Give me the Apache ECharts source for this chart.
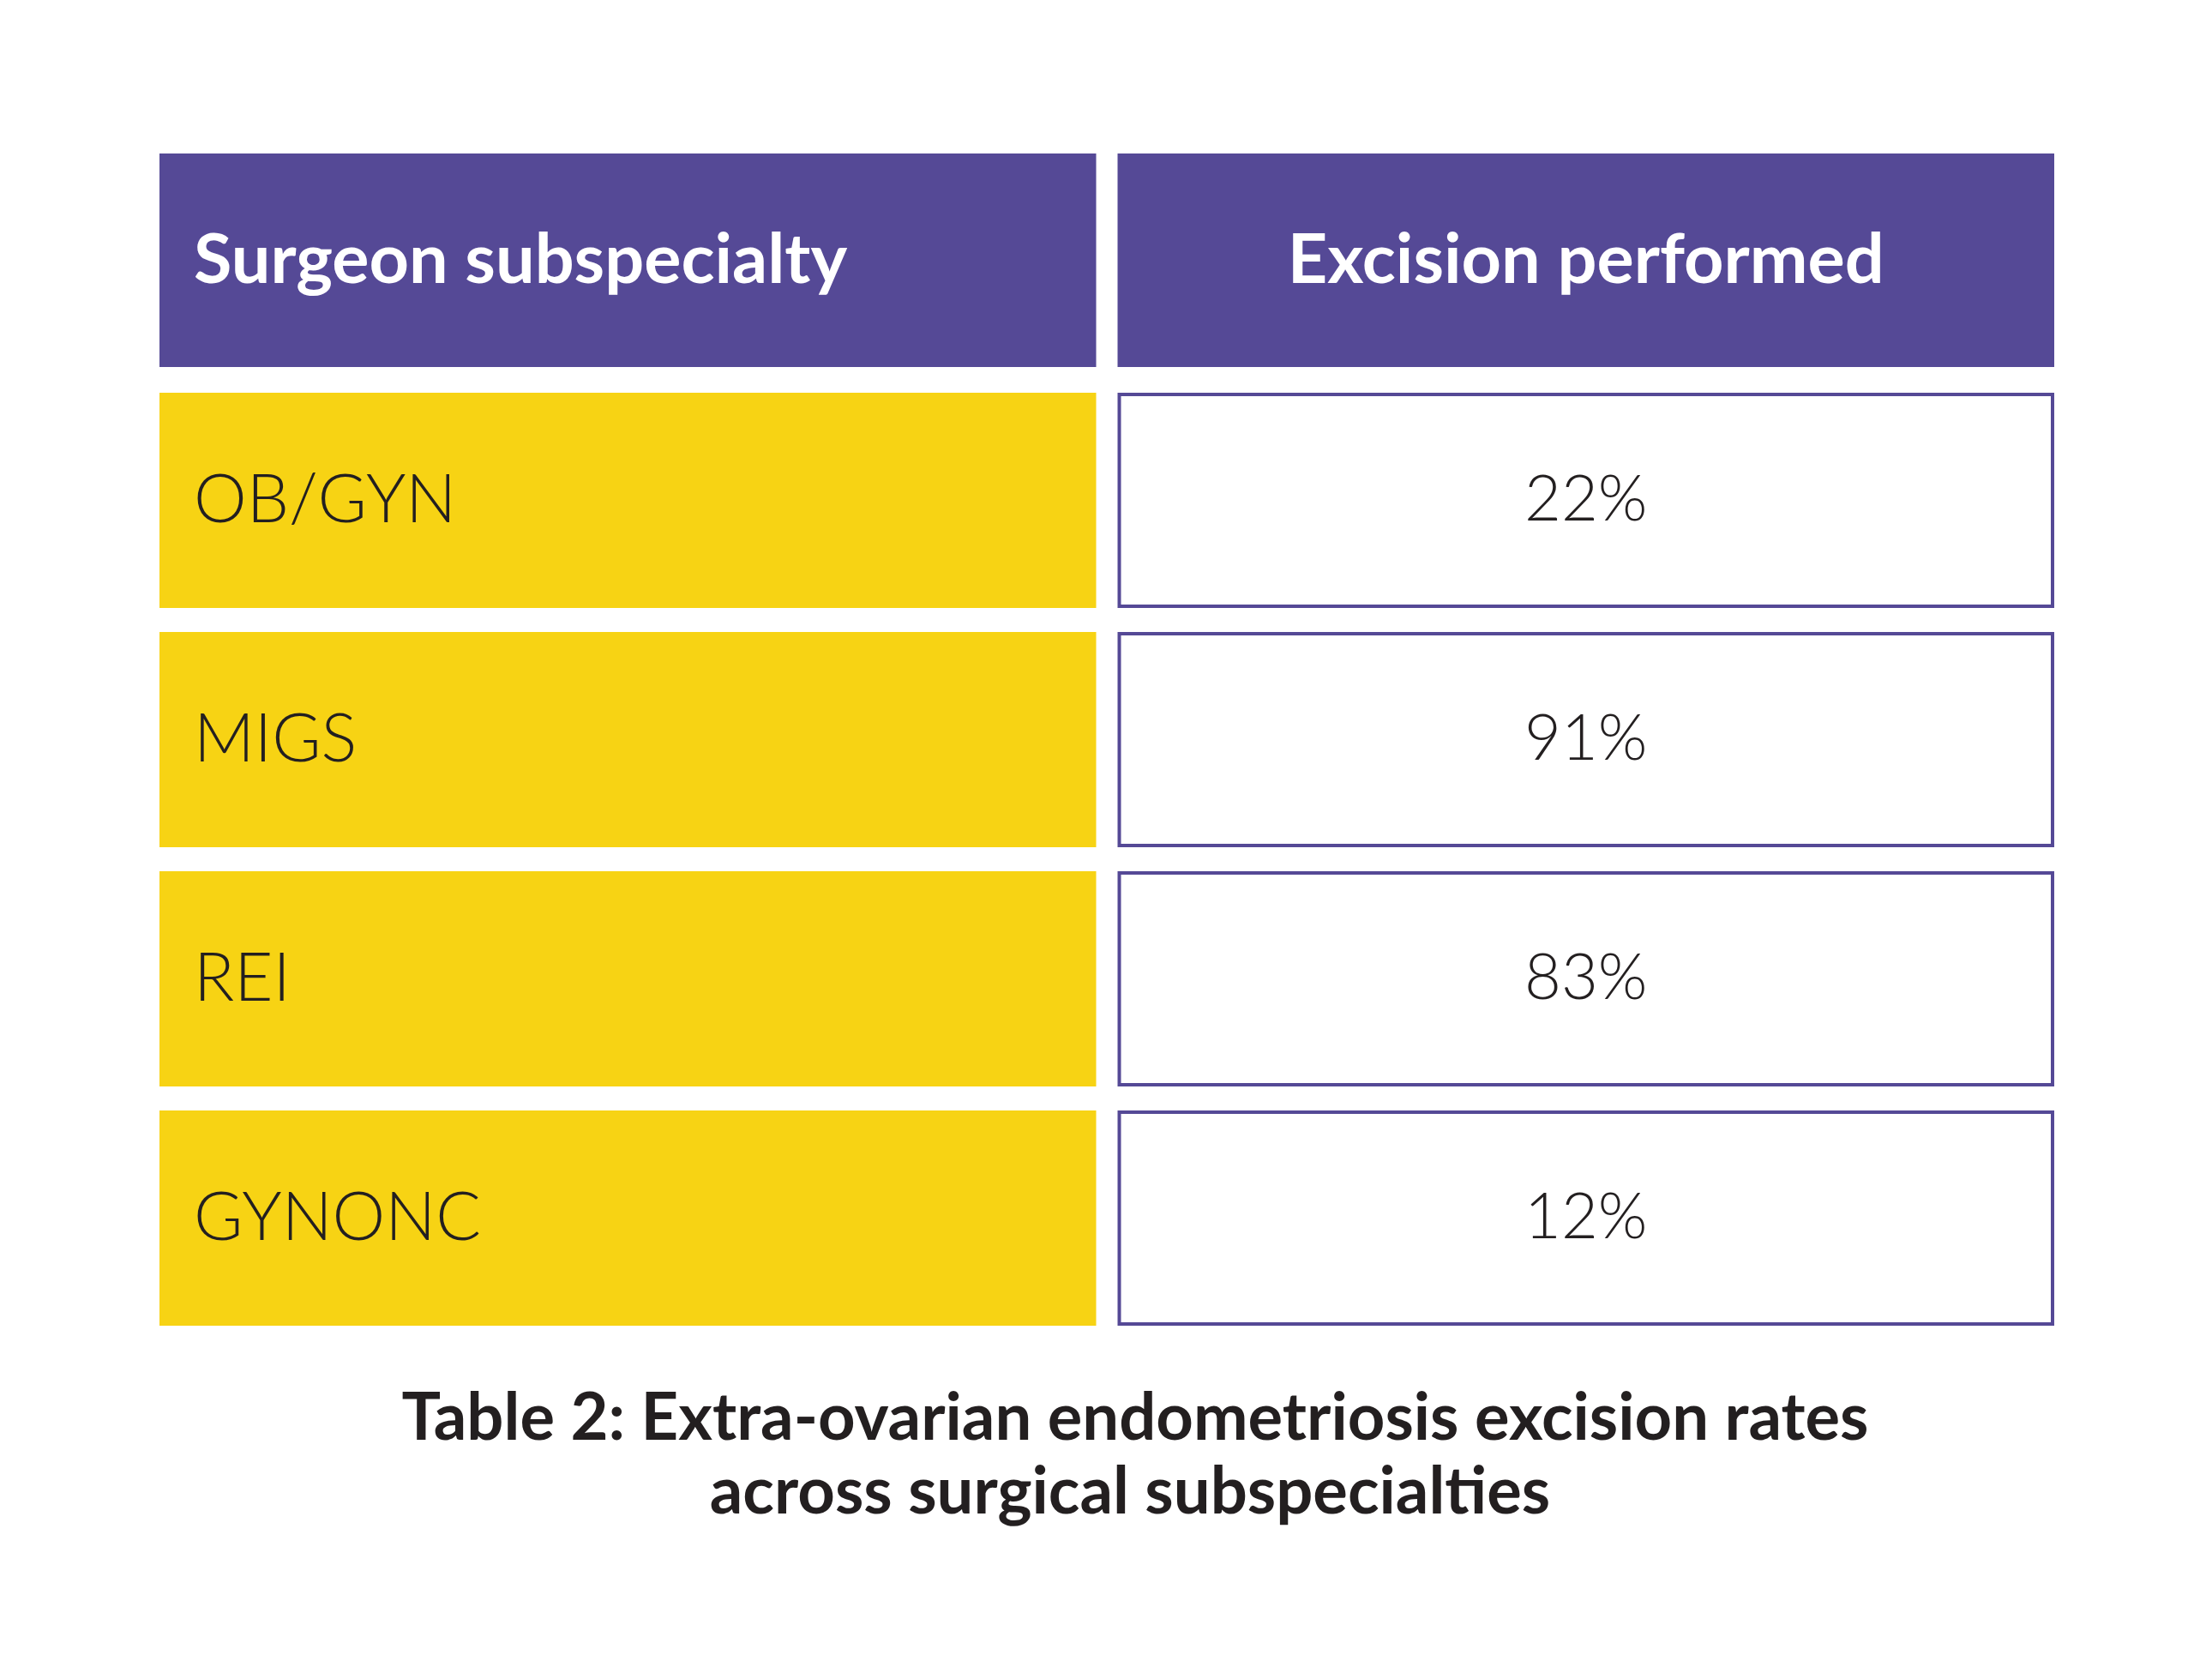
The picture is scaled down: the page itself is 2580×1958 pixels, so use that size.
<!DOCTYPE html>
<html>
<head>
<meta charset="utf-8">
<script src="https://cdn.jsdelivr.net/npm/echarts@6/dist/echarts.min.js"></script>
<style>
  html, body { margin: 0; padding: 0; background: #fff; }
  #chart { width: 2580px; height: 1958px; }
</style>
</head>
<body>
<div id="chart"></div>
<script>
const columns = ['Surgeon subspecialty', 'Excision performed']
const specialties = ['OB/GYN', 'MIGS', 'REI', 'GYNONC']
const excisionRates = [22, 91, 83, 12]
const caption = ['Table 2: Extra-ovarian endometriosis excision rates', 'across surgical subspecialties']

const rows = ['header'].concat(specialties)

// one data item per cell: [column, row, text, kind]
let cells = []
columns.forEach((name, c) => cells.push([c, 0, name, 'head']))
specialties.forEach((name, i) => {
    cells.push([0, i + 1, name, 'label'])
    cells.push([1, i + 1, excisionRates[i] + '%', 'value'])
})

const purple = '#554996'
const yellow = '#F7D314'
const ink = '#231f20'

let myChart = echarts.init(document.getElementById('chart'))

function renderCell(params, api) {
    const c = api.value(0)
    const r = api.value(1)
    const item = cells[params.dataIndex]
    const center = api.coord([c, r])
    const size = api.size([1, 1])
    const w = size[0] - 25
    const h = r === 0 ? size[1] - 30 : size[1] - 28
    const x = center[0] - size[0] / 2
    const y = center[1] - size[1] / 2
    const kind = item[3]

    let rectStyle
    if (kind === 'head') {
        rectStyle = { fill: purple }
    } else if (kind === 'label') {
        rectStyle = { fill: yellow }
    } else {
        rectStyle = { fill: '#fff', stroke: purple, lineWidth: 4 }
    }
    const inset = kind === 'value' ? 2 : 0
    const leftAlign = c === 0
    let fontSize = 74
    if (kind === 'head') fontSize = 81
    if (kind === 'label') fontSize = 78

    return {
        type: 'group',
        children: [
            {
                type: 'rect',
                shape: { x: x + inset, y: y + inset, width: w - inset * 2, height: h - inset * 2 },
                style: rectStyle
            },
            {
                type: 'text',
                style: {
                    text: item[2],
                    x: leftAlign ? x + 40 : x + w / 2,
                    y: y + h / 2,
                    align: leftAlign ? 'left' : 'center',
                    verticalAlign: 'middle',
                    fontFamily: 'Lato',
                    fontSize: fontSize,
                    fontWeight: kind === 'head' ? 'bold' : 300,
                    fill: kind === 'head' ? '#fff' : ink
                }
            }
        ]
    }
}

let option = {
    backgroundColor: '#fff',
    animation: false,
    grid: {
        left: 186,
        top: 179,
        width: 2235,
        height: 1395
    },
    xAxis: {
        type: 'category',
        data: columns,
        show: false
    },
    yAxis: {
        type: 'category',
        data: rows,
        inverse: true,
        show: false
    },
    graphic: [
        {
            type: 'text',
            x: 1324,
            y: 1654,
            style: {
                text: caption[0],
                align: 'center',
                verticalAlign: 'middle',
                fontFamily: 'Lato',
                fontSize: 76,
                fontWeight: 'bold',
                fill: ink
            }
        },
        {
            type: 'text',
            x: 1318,
            y: 1740,
            style: {
                text: caption[1],
                align: 'center',
                verticalAlign: 'middle',
                fontFamily: 'Lato',
                fontSize: 76,
                fontWeight: 'bold',
                fill: ink
            }
        }
    ],
    series: [
        {
            type: 'custom',
            renderItem: renderCell,
            data: cells,
            encode: { x: 0, y: 1 }
        }
    ]
}
myChart.setOption(option)
window.addEventListener('resize', function () {
    myChart.resize()
})
</script>
</body>
</html>
